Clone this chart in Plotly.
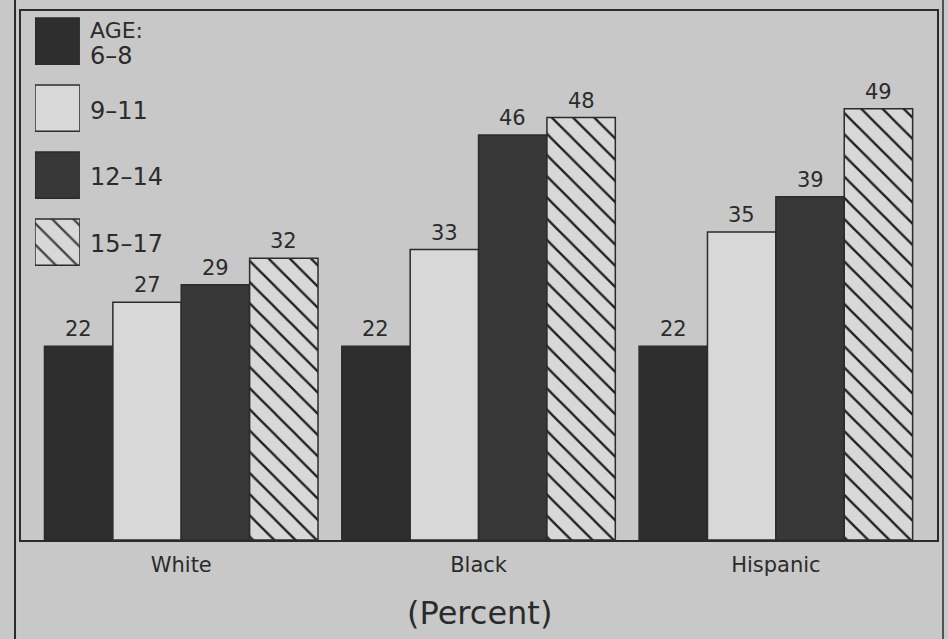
import plotly.graph_objects as go

# ---- data ----
categories = ["White", "Black", "Hispanic"]
age_groups = ["6–8", "9–11", "12–14", "15–17"]
values_6_8 = [22, 22, 22]
values_9_11 = [27, 33, 35]
values_12_14 = [29, 46, 39]
values_15_17 = [32, 48, 49]
series = [values_6_8, values_9_11, values_12_14, values_15_17]

# ---- style ----
BG = "#c8c8c8"
INK = "#2b2b2b"
HATCH = "#1e1e1e"
fills = ["#2e2e2e", "#d8d8d8", "#383838", "#d8d8d8"]
shapes_pat = ["", "", "", "\\"]
BAR_W = 0.23
FONT = "DejaVu Sans"

fig = go.Figure()
xpos = list(range(len(categories)))
for j, (name, vals) in enumerate(zip(age_groups, series)):
    fig.add_trace(go.Bar(
        x=xpos, y=vals, name=name, showlegend=False,
        marker=dict(color=fills[j], line=dict(color=INK, width=1.5),
                    pattern=dict(shape=shapes_pat[j], fgcolor=HATCH, fgopacity=1,
                                 size=15, solidity=0.15, fillmode="overlay")),
        hoverinfo="y+name",
    ))

# value labels above each bar
annotations = []
for j, vals in enumerate(series):
    for g, v in enumerate(vals):
        annotations.append(dict(
            x=g + (j - 1.5) * BAR_W, y=v, xref="x", yref="y",
            text=str(v), showarrow=False, yanchor="bottom", yshift=3,
            font=dict(family=FONT, size=21, color=INK)))

# custom legend (large swatches) drawn as a small bar subplot
fig.add_trace(go.Bar(
    x=[1, 1, 1, 1], y=[0, 1, 2, 3], orientation="h", width=0.69,
    xaxis="x2", yaxis="y2", showlegend=False, hoverinfo="skip",
    marker=dict(color=fills, line=dict(color=INK, width=1.5),
                pattern=dict(shape=shapes_pat, fgcolor=HATCH, fgopacity=1,
                             size=15, solidity=0.15, fillmode="overlay")),
))

legend_text = [("AGE:", 30), ("6–8", 56), ("9–11", 111), ("12–14", 177), ("15–17", 244)]
for txt, ypx in legend_text:
    annotations.append(dict(
        x=(88 - 21) / 918, y=(540 - ypx) / 529, xref="paper", yref="paper",
        text=txt, showarrow=False, xanchor="left", yanchor="middle",
        font=dict(family=FONT, size=24 if txt != "AGE:" else 22, color=INK)))

annotations.append(dict(
    x=0.5, y=-0.138, xref="paper", yref="paper", text="(Percent)",
    showarrow=False, xanchor="center", yanchor="middle",
    font=dict(family=FONT, size=32, color=INK)))

fig.update_layout(
    width=948, height=639,
    margin=dict(l=21, r=9, t=11, b=99),
    paper_bgcolor=BG, plot_bgcolor=BG,
    barmode="group", bargap=1 - 4 * BAR_W, bargroupgap=0,
    annotations=annotations,
    xaxis=dict(range=[-0.539, 2.542], tickvals=xpos, ticktext=categories,
               showgrid=False, zeroline=False, showline=True, mirror=True,
               linecolor=INK, linewidth=2, ticks="outside", ticklen=5,
               tickcolor="rgba(0,0,0,0)",
               tickfont=dict(family=FONT, size=21, color=INK)),
    yaxis=dict(range=[0, 60.1], showgrid=False, zeroline=False,
               showticklabels=False, showline=True, mirror=True,
               linecolor=INK, linewidth=2),
    xaxis2=dict(domain=[(35 - 21) / 918, (80 - 21) / 918], range=[0, 1],
                anchor="y2", visible=False, fixedrange=True),
    yaxis2=dict(domain=[(540 - 280) / 529, 1.0], range=[3.567, -0.448],
                anchor="x2", visible=False, fixedrange=True),
    shapes=[
        dict(type="line", xref="paper", yref="paper",
             x0=(15 - 21) / 918, x1=(15 - 21) / 918, y0=-0.2, y1=1.03,
             line=dict(color=INK, width=2)),
        dict(type="line", xref="paper", yref="paper",
             x0=(945 - 21) / 918, x1=(945 - 21) / 918, y0=-0.2, y1=1.03,
             line=dict(color=INK, width=1.5)),
    ],
)

fig.write_html(
    "out.html",
    config={"displayModeBar": False},
    post_script="document.body.style.margin='0';"
                "document.body.style.background='#c8c8c8';"
                "document.body.style.overflow='hidden';",
)
